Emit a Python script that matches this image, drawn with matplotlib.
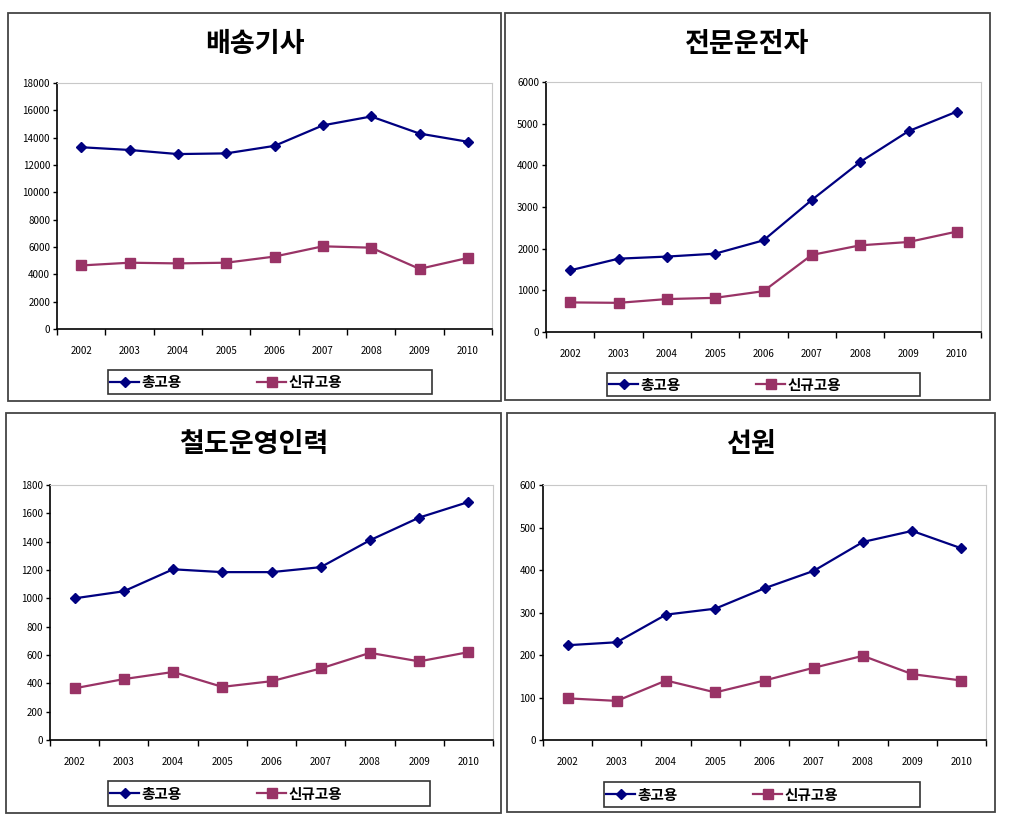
import numpy as np
import matplotlib.pyplot as plt
from matplotlib.patches import Rectangle

plt.rcParams['font.family'] = ['Noto Sans CJK KR', 'DejaVu Sans']

years = ['2002', '2003', '2004', '2005', '2006', '2007', '2008', '2009', '2010']
titles = ['배송기사', '전문운전자', '철도운영인력', '선원']
labels = ['총고용', '신규고용']

delivery_total = [13300, 13100, 12800, 12850, 13400, 14900, 15550, 14300, 13700]
delivery_new = [4650, 4850, 4800, 4850, 5300, 6050, 5950, 4400, 5200]
driver_total = [1480, 1760, 1810, 1880, 2200, 3170, 4080, 4820, 5290]
driver_new = [710, 700, 790, 820, 980, 1850, 2080, 2160, 2410]
rail_total = [1000, 1050, 1205, 1185, 1185, 1220, 1410, 1570, 1680]
rail_new = [365, 430, 480, 375, 415, 505, 615, 555, 620]
seaman_total = [223, 230, 295, 309, 357, 398, 466, 492, 451]
seaman_new = [98, 92, 140, 112, 140, 170, 198, 155, 140]

y_max = [18000, 6000, 1800, 600]
y_step = [2000, 1000, 200, 100]

W, H = 1033, 822
# pixel boxes: frame, plot area, legend (x0, y0, x1, y1), top-left origin
frames = [(8, 13, 501, 401), (505, 13, 990, 400), (6, 413, 501, 813), (507, 413, 995, 812)]
areas = [(57, 83, 492, 329), (546, 82, 981, 332), (50, 485, 493, 740), (543, 485, 986, 740)]
legends = [(108, 370, 432, 394), (607, 373, 920, 396), (108, 781, 430, 806), (604, 782, 920, 807)]
series = [(delivery_total, delivery_new), (driver_total, driver_new),
          (rail_total, rail_new), (seaman_total, seaman_new)]

navy = '#000080'
plum = '#993366'


def fx(x):
    return x / W


def fy(y):
    return 1 - y / H


fig = plt.figure(figsize=(W / 100, H / 100), dpi=100)

for i in range(4):
    f = frames[i]
    fig.patches.append(Rectangle((fx(f[0]), fy(f[3])), fx(f[2] - f[0]), (f[3] - f[1]) / H,
                                 transform=fig.transFigure, fill=False, edgecolor='#444444', lw=1.3))
    fig.text(fx((f[0] + f[2]) / 2), fy(f[1] + 31), titles[i], ha='center', va='center',
             fontsize=19.5, fontweight='bold')

    a = areas[i]
    ax = fig.add_axes([fx(a[0]), fy(a[3]), fx(a[2] - a[0]), (a[3] - a[1]) / H])
    x = np.arange(len(years))
    tot, new = series[i]
    l1, = ax.plot(x, tot, color=navy, lw=1.6, marker='D', markersize=5, label=labels[0])
    l2, = ax.plot(x, new, color=plum, lw=1.6, marker='s', markersize=7, label=labels[1])
    ax.set_xlim(-0.5, len(years) - 0.5)
    ax.set_ylim(0, y_max[i])
    ax.set_yticks(np.arange(0, y_max[i] + 1, y_step[i]))
    ax.set_xticks(np.arange(-0.5, len(years), 1.0))
    ax.set_xticklabels([])
    ax.set_xticks(x, minor=True)
    ax.set_xticklabels(years, minor=True)
    ax.tick_params(axis='x', which='major', length=4, width=1, direction='out')
    ax.tick_params(axis='x', which='minor', length=0, pad=12, labelsize=7)
    ax.tick_params(axis='y', length=3, width=1, direction='out', labelsize=7, pad=2)
    for s in ['top', 'right']:
        ax.spines[s].set_color('#c8c8c8')
    for s in ['left', 'bottom']:
        ax.spines[s].set_color('black')
        ax.spines[s].set_linewidth(1.2)

    lg = legends[i]
    fig.patches.append(Rectangle((fx(lg[0]), fy(lg[3])), fx(lg[2] - lg[0]), (lg[3] - lg[1]) / H,
                                 transform=fig.transFigure, fill=False, edgecolor='#333333', lw=1.2))
    fig.legend(handles=[l1, l2], loc='center left', ncol=2,
               bbox_to_anchor=(fx(lg[0] + 2), fy((lg[1] + lg[3]) / 2)),
               bbox_transform=fig.transFigure, frameon=False,
               prop={'weight': 'bold', 'size': 10.5}, borderpad=0,
               handlelength=2.0, handletextpad=0.15, columnspacing=5.2, borderaxespad=0)

fig.savefig('out.png', dpi=100)
